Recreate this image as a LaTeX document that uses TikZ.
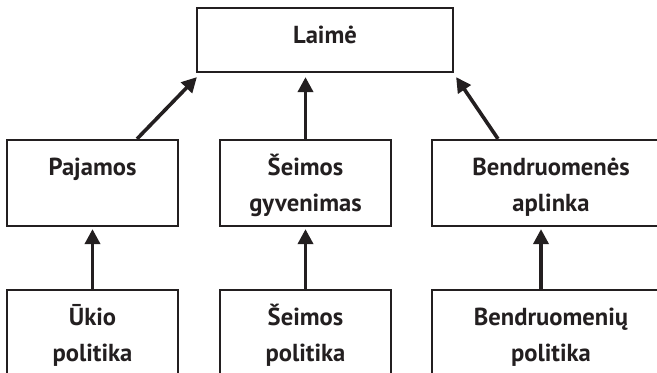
\documentclass[tikz,border=0pt]{standalone}
\usepackage{fontspec}
\setmainfont{PT Sans}
\usetikzlibrary{arrows.meta}
\definecolor{ink}{HTML}{231F20}

\begin{document}
\begin{tikzpicture}[x=0.5pt,y=-0.5pt,
  box/.style={draw=ink, line width=1.1pt, inner sep=0pt, align=center,
    text=ink, font=\bfseries\fontsize{12.3}{18}\selectfont,
    text height=17.75pt, text depth=25.25pt, text width=85.5pt},
  up/.style={draw=ink, line width=1.8pt, -{Triangle[length=7.5pt,width=7.5pt]}}]
\useasboundingbox (0,0) rectangle (657,373);
\node[box, text width=128pt, text depth=14.25pt] (laime) at (325,40) {Laimė};
\node[box] (pajamos) at (92.5,183) {Pajamos};
\node[box] (seimos) at (305.5,183) {Šeimos\\gyvenimas};
\node[box, text width=119pt] (bendr) at (551,183) {Bendruomenės\\aplinka};
\node[box] (ukio) at (92.5,333) {Ūkio\\politika};
\node[box] (seimpol) at (305.5,333) {Šeimos\\politika};
\node[box, text width=119pt] (bendrpol) at (551,333) {Bendruomenių\\politika};
\draw[up] ([xshift=22.25pt]pajamos.north) -- ([xshift=0.5pt,yshift=-2pt]laime.south west);
\draw[up] (seimos.north) -- ([yshift=-2pt]seimos.north |- laime.south);
\draw[up] ([xshift=-26.5pt]bendr.north) -- ([xshift=1pt,yshift=-2pt]laime.south east);
\draw[up] (ukio.north) -- ([yshift=-1pt]pajamos.south);
\draw[up] (seimpol.north) -- ([yshift=-1pt]seimos.south);
\draw[up] ([xshift=-5pt]bendrpol.north) -- ([xshift=-5pt,yshift=-1pt]bendr.south);
\end{tikzpicture}
\end{document}
